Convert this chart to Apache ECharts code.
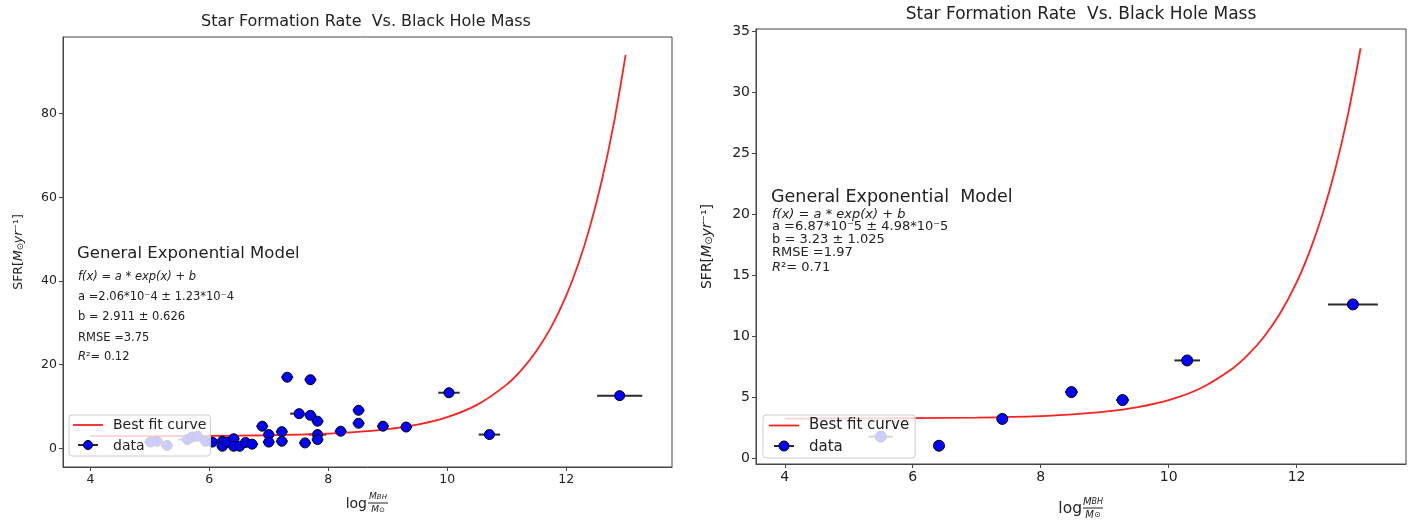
<!DOCTYPE html>
<html>
<head>
<meta charset="utf-8">
<script src="https://cdn.jsdelivr.net/npm/echarts@6/dist/echarts.min.js"></script>
<style>
  html, body { margin: 0; padding: 0; background: #fff; }
  #chart { width: 1421px; height: 520px; }
</style>
</head>
<body>
<div id="chart"></div>
<script>
// left panel: all galaxies
const leftX = [5.01, 5.12, 5.29, 5.63, 5.71, 5.80, 5.94, 6.05, 6.22, 6.22, 6.30, 6.41, 6.41, 6.51, 6.61, 6.72,
  6.89, 7.00, 7.00, 7.22, 7.22, 7.31, 7.51, 7.61, 7.70, 7.70, 7.82, 7.82, 7.82, 8.21, 8.51, 8.51, 8.92, 9.31,
  10.03, 10.71, 12.90]
const leftY = [1.5, 1.7, 0.7, 2.1, 2.7, 2.9, 1.7, 1.5, 1.7, 0.5, 1.5, 2.3, 0.5, 0.5, 1.4, 1.0,
  5.3, 3.3, 1.5, 4.0, 1.7, 17.0, 8.3, 1.3, 16.4, 7.9, 6.5, 3.3, 2.1, 4.1, 9.1, 6.0, 5.3, 5.1,
  13.3, 3.3, 12.6]
const leftXerr = [0.1, 0.1, 0.1, 0.15, 0.1, 0.15, 0.1, 0.1, 0.1, 0.1, 0.1, 0.1, 0.1, 0.1, 0.1, 0.1,
  0.1, 0.1, 0.1, 0.1, 0.1, 0.1, 0.15, 0.1, 0.1, 0.1, 0.1, 0.15, 0.1, 0.1, 0.1, 0.1, 0.1, 0.1,
  0.18, 0.18, 0.38]
const leftCurveX = [4, 5, 6, 7, 8, 8.5, 9, 9.5, 10, 10.5, 11, 11.25, 11.5, 11.75, 12, 12.2, 12.4, 12.6, 12.8, 13]
const leftCurveY = [2.92, 2.94, 2.99, 3.14, 3.53, 3.92, 4.58, 5.66, 7.45, 10.39, 15.24, 18.75, 23.25, 29.02,
  36.44, 43.86, 52.93, 64.0, 77.53, 94.05]

// right panel: binned
const rightX = [5.50, 6.41, 7.40, 8.48, 9.28, 10.29, 12.88]
const rightY = [1.75, 1.0, 3.2, 5.4, 4.75, 8.0, 12.6]
const rightXerr = [0.19, 0.08, 0.08, 0.1, 0.1, 0.2, 0.39]
const rightCurveX = [4, 5, 6, 7, 8, 8.5, 9, 9.5, 10, 10.5, 11, 11.25, 11.5, 11.75, 12, 12.2, 12.4, 12.6, 12.8, 13]
const rightCurveY = [3.23, 3.24, 3.26, 3.31, 3.43, 3.57, 3.79, 4.15, 4.74, 5.72, 7.34, 8.51, 10.01, 11.94,
  14.41, 16.89, 19.91, 23.60, 28.11, 33.62]

const xTicks = [4, 6, 8, 10, 12]
const leftYTicks = [0, 20, 40, 60, 80]
const rightYTicks = [0, 5, 10, 15, 20, 25, 30, 35]

const chartTitle = 'Star Formation Rate  Vs. Black Hole Mass'
const leftModel = ['f(x)', 'a =2.06*10⁻4 ± 1.23*10⁻4', 'b = 2.911 ± 0.626', 'RMSE =3.75', '0.12']
const rightModel = ['f(x)', 'a =6.87*10⁻5 ± 4.98*10⁻5', 'b = 3.23 ± 1.025', 'RMSE =1.97', '0.71']

const FONT = 'DejaVu Sans'
const INK = '#222'
const SPINE = '#444'

const chart = echarts.init(document.getElementById('chart'))

function makeXAxis (grid, min, max, fs) {
  return {
    type: 'value', gridIndex: grid, min: min, max: max,
    axisLine: { show: true, onZero: false, lineStyle: { color: SPINE, width: 1 } },
    axisTick: { show: true, length: 4, customValues: xTicks, lineStyle: { color: SPINE } },
    axisLabel: { customValues: xTicks, color: INK, fontSize: fs, fontFamily: FONT, margin: 6 },
    splitLine: { show: false }
  }
}

function makeYAxis (grid, min, max, ticks, fs, nameGap) {
  return {
    type: 'value', gridIndex: grid, min: min, max: max,
    name: 'SFR[{i|M}{s|⊙}{i|yr}⁻¹]',
    nameLocation: 'middle', nameRotate: 90, nameGap: nameGap,
    nameTextStyle: {
      color: INK, fontSize: fs, fontFamily: FONT,
      rich: {
        i: { fontStyle: 'italic', fontSize: fs, fontFamily: FONT, color: INK },
        s: { fontSize: fs - 4, fontFamily: FONT, color: INK, padding: [4, 0, 0, 0] }
      }
    },
    axisLine: { show: true, onZero: false, lineStyle: { color: SPINE, width: 1 } },
    axisTick: { show: true, length: 4, customValues: ticks, lineStyle: { color: SPINE } },
    axisLabel: { customValues: ticks, color: INK, fontSize: fs, fontFamily: FONT, margin: 6 },
    splitLine: { show: false }
  }
}

function errorSeries (idx, xs, ys, errs) {
  return {
    type: 'custom', name: 'xerr' + idx, xAxisIndex: idx, yAxisIndex: idx, z: 2,
    encode: { x: 0, y: 1 },
    data: xs.map((x, i) => [x, ys[i], errs[i]]),
    renderItem (params, api) {
      const p1 = api.coord([api.value(0) - api.value(2), api.value(1)])
      const p2 = api.coord([api.value(0) + api.value(2), api.value(1)])
      return {
        type: 'line',
        shape: { x1: p1[0], y1: p1[1], x2: p2[0], y2: p2[1] },
        style: { stroke: '#2a2a2a', lineWidth: 2 }
      }
    }
  }
}

function curveSeries (idx, xs, ys) {
  return {
    type: 'line', name: 'Best fit curve', xAxisIndex: idx, yAxisIndex: idx, z: 2,
    data: xs.map((x, i) => [x, ys[i]]),
    smooth: 0.35, symbol: 'none', showSymbol: false,
    lineStyle: { color: '#ff2020', width: 1.8 },
    itemStyle: { color: '#ff2020' }
  }
}

function pointSeries (idx, xs, ys, size) {
  return {
    type: 'scatter', name: 'data', xAxisIndex: idx, yAxisIndex: idx, z: 2,
    data: xs.map((x, i) => [x, ys[i]]),
    symbolSize: size,
    itemStyle: { color: '#0000ff', borderColor: '#000', borderWidth: 1, opacity: 1 }
  }
}

function makeLegend (left, top, fs, pad, seriesIdx) {
  return {
    orient: 'vertical', left: left, top: top, z: 10,
    data: [
      { name: 'Best fit curve', icon: 'path://M0,0L30,0L30,1.8L0,1.8Z' },
      { name: 'data', icon: 'circle', itemStyle: { opacity: 0 } }
    ],
    seriesIndex: seriesIdx,
    itemWidth: 30, itemHeight: 10, itemGap: 7,
    padding: pad,
    backgroundColor: 'rgba(255,255,255,0.8)',
    borderColor: '#cccccc', borderWidth: 1, borderRadius: 3,
    textStyle: { color: INK, fontSize: fs, fontFamily: FONT, padding: [0, 0, 0, 5] },
    selectedMode: false
  }
}

// errorbar handle drawn on top of the legend box
function legendHandle (cx, cy, r) {
  return {
    type: 'group', x: cx, y: cy, zlevel: 1, z: 30,
    children: [
      { type: 'line', zlevel: 1, shape: { x1: -10, y1: 0, x2: 10, y2: 0 }, style: { stroke: '#2a2a2a', lineWidth: 2 } },
      { type: 'circle', zlevel: 1, shape: { cx: 0, cy: 0, r: r }, style: { fill: '#0000ff', stroke: '#000', lineWidth: 1 } }
    ]
  }
}

function textEl (x, y, text, fs, extra) {
  return {
    type: 'text', x: x, y: y, z: 20,
    style: Object.assign({
      text: text, fill: INK, font: fs + 'px "' + FONT + '"',
      verticalAlign: 'middle', align: 'left'
    }, extra || {})
  }
}

function richModel (x, ys, fs, lines) {
  const rich = {
    i: { fontStyle: 'italic', fontSize: fs, fontFamily: FONT, fill: INK },
    n: { fontSize: fs, fontFamily: FONT, fill: INK }
  }
  return [
    textEl(x, ys[0], '{i|f(x) = a * exp(x) + b}', fs, { rich: rich }),
    textEl(x, ys[1], lines[1], fs),
    textEl(x, ys[2], lines[2], fs),
    textEl(x, ys[3], lines[3], fs),
    textEl(x, ys[4], '{i|R}²{n|= ' + lines[4] + '}', fs, { rich: rich })
  ]
}

function xName (cx, cy, fs) {
  const sm = Math.round(fs * 0.62)
  const rich = {
    i: { fontStyle: 'italic', fontSize: sm, fontFamily: FONT, fill: INK },
    s: { fontStyle: 'italic', fontSize: sm - 2, fontFamily: FONT, fill: INK },
    o: { fontSize: sm - 2, fontFamily: FONT, fill: INK }
  }
  return {
    type: 'group', x: cx, y: cy, z: 20,
    children: [
      { type: 'text', x: 0, y: 1, style: { text: 'log', fill: INK, font: fs + 'px "' + FONT + '"', align: 'right', verticalAlign: 'middle' } },
      { type: 'text', x: 11, y: -6, style: { text: '{i|M}{s|BH}', rich: rich, align: 'center', verticalAlign: 'middle' } },
      { type: 'line', shape: { x1: 1, y1: 0, x2: 21, y2: 0 }, style: { stroke: INK, lineWidth: 1 } },
      { type: 'text', x: 11, y: 7, style: { text: '{i|M}{o|⊙}', rich: rich, align: 'center', verticalAlign: 'middle' } }
    ]
  }
}

const option = {
  animation: false,
  backgroundColor: '#fff',
  grid: [
    { left: 63, top: 37, width: 609, height: 430, show: true, borderColor: SPINE, borderWidth: 1, backgroundColor: 'transparent' },
    { left: 756, top: 29, width: 650, height: 435, show: true, borderColor: SPINE, borderWidth: 1, backgroundColor: 'transparent' }
  ],
  xAxis: [
    makeXAxis(0, 3.54, 13.78, 12.5),
    makeXAxis(1, 3.55, 13.71, 14)
  ],
  yAxis: [
    makeYAxis(0, -4.45, 98.3, leftYTicks, 12.5, 38),
    makeYAxis(1, -0.5, 35.2, rightYTicks, 14, 42)
  ],
  legend: [
    makeLegend(69, 415, 14, [3, 4, 3, 4], [0, 2]),
    makeLegend(763, 415, 15, [3, 6, 3, 6], [3, 5])
  ],
  graphic: [
    textEl(366, 22, chartTitle, 16, { align: 'center' }),
    textEl(1081, 15, chartTitle, 17, { align: 'center' }),
    textEl(77, 254, 'General Exponential Model', 16.5),
    ...richModel(78, [277, 297, 317, 338, 357], 11.5, leftModel),
    textEl(771, 197, 'General Exponential  Model', 17.5),
    ...richModel(772, [215, 227, 240, 253, 268], 13, rightModel),
    xName(367, 503, 14),
    xName(1082, 508, 15.5),
    legendHandle(88, 445, 4.5),
    legendHandle(784, 446, 5)
  ],
  series: [
    curveSeries(0, leftCurveX, leftCurveY),
    errorSeries(0, leftX, leftY, leftXerr),
    pointSeries(0, leftX, leftY, 10),
    curveSeries(1, rightCurveX, rightCurveY),
    errorSeries(1, rightX, rightY, rightXerr),
    pointSeries(1, rightX, rightY, 11)
  ]
}

chart.setOption(option)
</script>
</body>
</html>
